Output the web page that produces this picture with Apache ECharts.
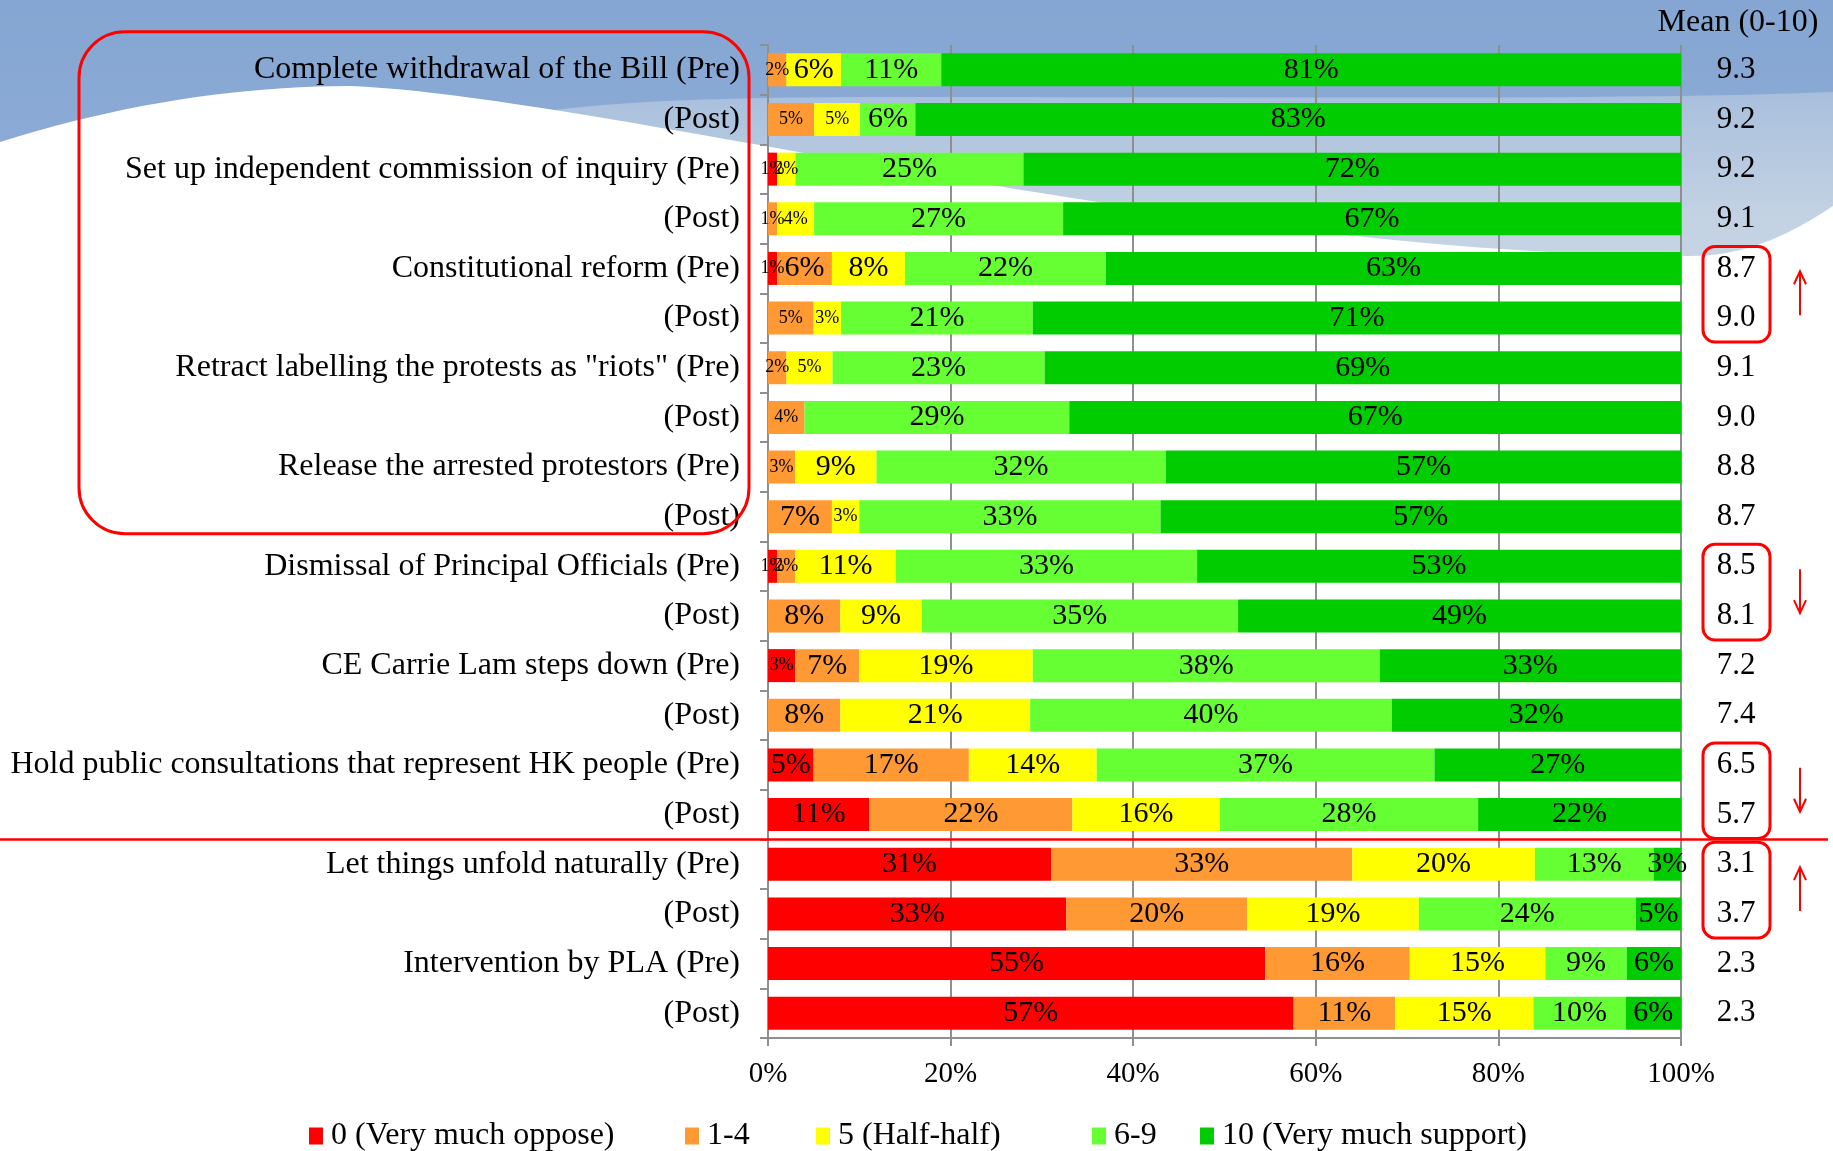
<!DOCTYPE html>
<html>
<head>
<meta charset="utf-8">
<title>Support for demands (Pre / Post)</title>
<script src="https://cdn.jsdelivr.net/npm/echarts@6/dist/echarts.min.js"></script>
<style>
    html, body { margin: 0; padding: 0; background: #fff; }
    #main { width: 1833px; height: 1151px; }
</style>
</head>
<body>
<div id="main"></div>
<script>
// rows, top to bottom
var categories = [
    'Complete withdrawal of the Bill (Pre)', '(Post)',
    'Set up independent commission of inquiry (Pre)', '(Post)',
    'Constitutional reform (Pre)', '(Post)',
    'Retract labelling the protests as "riots" (Pre)', '(Post)',
    'Release the arrested protestors (Pre)', '(Post)',
    'Dismissal of Principal Officials (Pre)', '(Post)',
    'CE Carrie Lam steps down (Pre)', '(Post)',
    'Hold public consultations that represent HK people (Pre)', '(Post)',
    'Let things unfold naturally (Pre)', '(Post)',
    'Intervention by PLA (Pre)', '(Post)'
];
var seriesNames = ['0 (Very much oppose)', '1-4', '5 (Half-half)', '6-9', '10 (Very much support)'];
// percentages as printed on the bars
var pct0  = [0, 0, 1, 0, 1, 0, 0, 0, 0, 0, 1, 0, 3, 0, 5, 11, 31, 33, 55, 57];
var pct14 = [2, 5, 0, 1, 6, 5, 2, 4, 3, 7, 2, 8, 7, 8, 17, 22, 33, 20, 16, 11];
var pct5  = [6, 5, 2, 4, 8, 3, 5, 0, 9, 3, 11, 9, 19, 21, 14, 16, 20, 19, 15, 15];
var pct69 = [11, 6, 25, 27, 22, 21, 23, 29, 32, 33, 33, 35, 38, 40, 37, 28, 13, 24, 9, 10];
var pct10 = [81, 83, 72, 67, 63, 71, 69, 67, 57, 57, 53, 49, 33, 32, 27, 22, 3, 5, 6, 6];
var means = ['9.3', '9.2', '9.2', '9.1', '8.7', '9.0', '9.1', '9.0', '8.8', '8.7',
             '8.5', '8.1', '7.2', '7.4', '6.5', '5.7', '3.1', '3.7', '2.3', '2.3'];
var xTicks = [0, 20, 40, 60, 80, 100];

// annotation groups (row index pairs) and direction of change
var markedPairs = [[4, 5, 'up'], [10, 11, 'down'], [14, 15, 'down'], [16, 17, 'up']];

var colors = ['#ff0000', '#ff9933', '#ffff00', '#66ff33', '#00cc00'];
var allPct = [pct0, pct14, pct5, pct69, pct10];
var smallBelow = [3, 5, 5, 0, 0]; // labels at or under this get the small font
var serif = "'Liberation Serif', 'Times New Roman', serif";

var rowSum = categories.map(function (c, i) {
    return pct0[i] + pct14[i] + pct5[i] + pct69[i] + pct10[i];
});

var series = allPct.map(function (arr, s) {
    return {
        name: seriesNames[s],
        type: 'bar',
        stack: 'all',
        barWidth: 33,
        itemStyle: { color: colors[s] },
        label: {
            show: true,
            position: 'inside',
            color: '#000',
            fontFamily: serif,
            fontSize: 30,
            formatter: function (p) { return arr[p.dataIndex] ? arr[p.dataIndex] + '%' : ''; }
        },
        data: arr.map(function (v, i) {
            return {
                value: v / rowSum[i] * 100,
                label: { fontSize: v <= smallBelow[s] ? 18 : 30 }
            };
        })
    };
});

var legendLeft = [304, 680, 811, 1087, 1195];
var legends = seriesNames.map(function (n, s) {
    return {
        data: [n],
        left: legendLeft[s],
        top: 1115,
        icon: 'rect',
        itemWidth: 14,
        itemHeight: 17,
        textStyle: { color: '#000', fontSize: 32, fontFamily: serif, padding: [0, 0, 0, 3] }
    };
});

var chart = echarts.init(document.getElementById('main'));

// background: blue sky with a white wave
function bez(p0, p1, p2, p3, n) {
    var pts = [];
    for (var k = 0; k <= n; k++) {
        var t = k / n, u = 1 - t;
        pts.push([
            u * u * u * p0[0] + 3 * u * u * t * p1[0] + 3 * u * t * t * p2[0] + t * t * t * p3[0],
            u * u * u * p0[1] + 3 * u * u * t * p1[1] + 3 * u * t * t * p2[1] + t * t * t * p3[1]
        ]);
    }
    return pts;
}
var wave = [].concat(
    bez([0, 142], [120, 104], [240, 86], [350, 86], 20),
    bez([350, 86], [600, 96], [1200, 256], [1690, 256], 50),
    bez([1690, 256], [1750, 257], [1800, 228], [1833, 206], 10),
    [[1833, 1151], [0, 1151]]
);
var band = [].concat(
    bez([420, 140], [520, 104], [650, 97], [900, 97], 20),
    bez([900, 97], [1300, 97], [1650, 100], [1833, 92], 20),
    [[1833, 400], [420, 400]]
);

var bg = [
    { type: 'rect', z: -10, shape: { x: 0, y: 0, width: 1833, height: 420 },
      style: { fill: new echarts.graphic.LinearGradient(0, 0, 0, 1, [
          { offset: 0, color: '#85a6d2' }, { offset: 1, color: '#97b4dc' }]) } },
    { type: 'polygon', z: -9, shape: { points: band },
      style: { fill: new echarts.graphic.LinearGradient(0, 0, 0, 1, [
          { offset: 0, color: '#a8bfdc' }, { offset: 0.4, color: '#c3d2e3' }, { offset: 1, color: '#cdd9e6' }]) } },
    { type: 'polygon', z: -8, shape: { points: wave }, style: { fill: '#ffffff' } },
    { type: 'text', z: 10, x: 1738, y: 23,
      style: { text: 'Mean (0-10)', font: '32px ' + serif, fill: '#000', align: 'center', verticalAlign: 'middle' } }
];

option = {
    animation: false,
    color: colors,
    legend: legends,
    grid: { left: 768, right: 152, top: 45, bottom: 113 },
    xAxis: {
        type: 'value',
        min: 0,
        max: 100,
        interval: 20,
        axisLine: { show: true, lineStyle: { color: '#8f8f8f', width: 2 } },
        axisTick: { show: true, length: 8, lineStyle: { color: '#8f8f8f', width: 2 } },
        splitLine: { show: true, lineStyle: { color: '#8f8f8f', width: 2 } },
        axisLabel: {
            color: '#000', fontSize: 29, fontFamily: serif, margin: 22,
            formatter: function (v) { return xTicks.indexOf(v) >= 0 ? v + '%' : ''; }
        }
    },
    yAxis: [{
        type: 'category',
        inverse: true,
        data: categories,
        axisLine: { show: true, lineStyle: { color: '#8f8f8f', width: 2 } },
        axisTick: { show: true, length: 8, lineStyle: { color: '#8f8f8f', width: 2 } },
        axisLabel: { color: '#000', fontSize: 32, fontFamily: serif, margin: 28 }
    }, {
        type: 'category',
        inverse: true,
        position: 'right',
        data: means,
        axisLine: { show: false },
        axisTick: { show: false },
        axisLabel: { color: '#000', fontSize: 31, fontFamily: serif, margin: 55, align: 'center' }
    }],
    graphic: bg,
    series: series
};
chart.setOption(option);

// red annotations, placed from the axis positions
function rowY(i) { return chart.convertToPixel({ yAxisIndex: 0 }, i); }
var red = '#ff0000';
var notes = [];
notes.push({ type: 'rect', z: 50,
    shape: { x: 79, y: rowY(0) - 38, width: 670, height: rowY(9) - rowY(0) + 55, r: 46 },
    style: { fill: 'none', stroke: red, lineWidth: 3 } });
var splitY = (rowY(15) + rowY(16)) / 2;
notes.push({ type: 'line', z: 50, shape: { x1: 0, y1: splitY, x2: 1828, y2: splitY },
    style: { stroke: red, lineWidth: 2.5 } });
markedPairs.forEach(function (m) {
    var y0 = rowY(m[0]) - 22, y1 = rowY(m[1]) + 24;
    notes.push({ type: 'rect', z: 50, shape: { x: 1703, y: y0, width: 67, height: y1 - y0, r: 12 },
        style: { fill: 'none', stroke: red, lineWidth: 3 } });
    var mid = (rowY(m[0]) + rowY(m[1])) / 2, top = mid - 22, bot = mid + 22;
    var tip = m[2] === 'up' ? top : bot, dir = m[2] === 'up' ? 1 : -1;
    notes.push({ type: 'line', z: 50, shape: { x1: 1800, y1: top, x2: 1800, y2: bot },
        style: { stroke: red, lineWidth: 2 } });
    notes.push({ type: 'polyline', z: 50,
        shape: { points: [[1794, tip + dir * 13], [1800, tip], [1806, tip + dir * 13]] },
        style: { stroke: red, lineWidth: 2, fill: 'none' } });
});
chart.setOption({ graphic: bg.concat(notes) });
</script>
</body>
</html>
